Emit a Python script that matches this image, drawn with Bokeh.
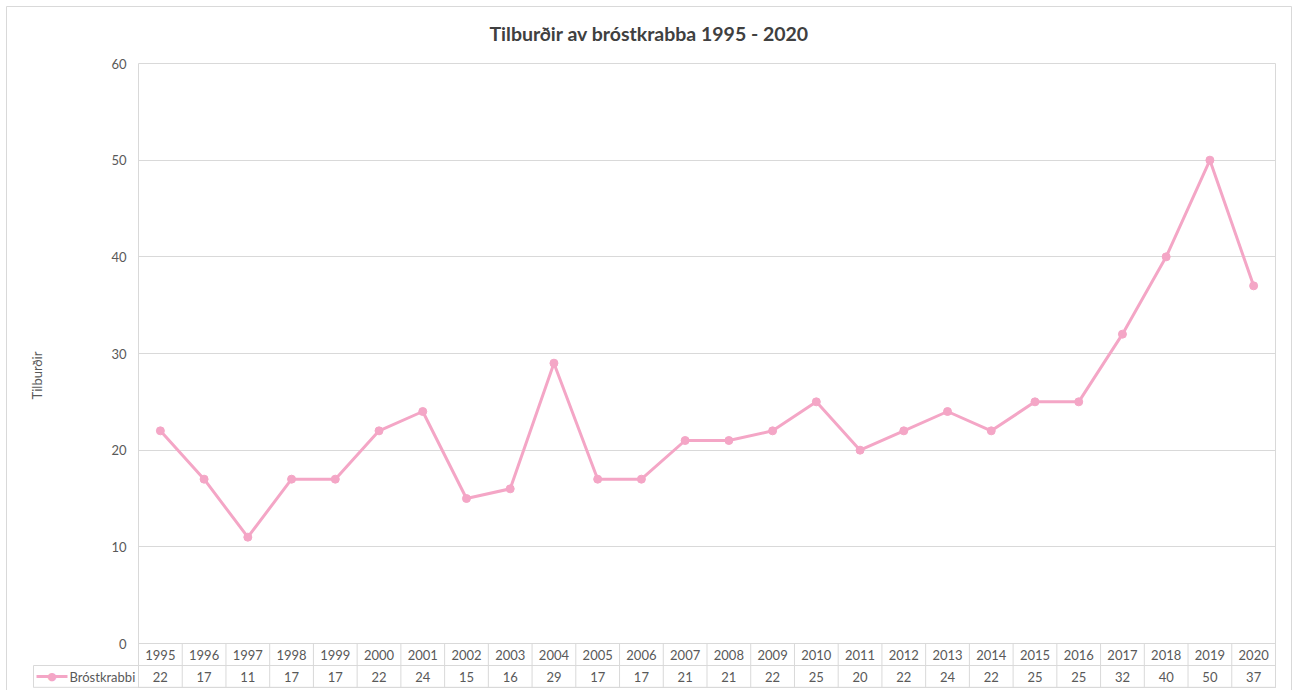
import numpy as np
from bokeh.plotting import figure
from bokeh.models import Range1d, FixedTicker, Title, ColumnDataSource
from bokeh.core.properties import value
from bokeh.embed import file_html
from bokeh.resources import INLINE

# ---- data ----
years = ["1995", "1996", "1997", "1998", "1999", "2000", "2001", "2002", "2003",
         "2004", "2005", "2006", "2007", "2008", "2009", "2010", "2011", "2012",
         "2013", "2014", "2015", "2016", "2017", "2018", "2019", "2020"]
cases = [22, 17, 11, 17, 17, 22, 24, 15, 16, 29, 17, 17, 21, 21, 22, 25, 20,
         22, 24, 22, 25, 25, 32, 40, 50, 37]
series_name = "Bróstkrabbi"
title_text = "Tilburðir av bróstkrabba 1995 - 2020"
y_label = "Tilburðir"
y_ticks = [0, 10, 20, 30, 40, 50, 60]

FONT = "Lato"
TXT = "#595959"
GRID = "#d9d9d9"
PINK = "#f4a6c6"

n = len(years)
xc = np.arange(n) + 0.5

# ---- geometry (pixels) ----
W, H = 1292, 690
F_LEFT, F_RIGHT, F_TOP, F_BOTTOM = 138, 1275, 63, 687
PLOT_BOTTOM = 643
ROW_PX = 22
LABEL_CELL_PX = 105

px_y = (PLOT_BOTTOM - F_TOP) / 60.0
px_x = (F_RIGHT - F_LEFT) / n
y_min = -(F_BOTTOM - PLOT_BOTTOM) / px_y
row_h = ROW_PX / px_y
lab_w = LABEL_CELL_PX / px_x


def sx(px):
    return (px - F_LEFT) / px_x


def sy(py):
    return (PLOT_BOTTOM - py) / px_y


p = figure(width=W, height=H, output_backend="svg", toolbar_location=None,
           x_axis_type=None, x_range=Range1d(0, n), y_range=Range1d(y_min, 60),
           min_border_left=F_LEFT, min_border_right=W - F_RIGHT,
           min_border_top=F_TOP, min_border_bottom=H - F_BOTTOM)
p.outline_line_color = GRID
p.outline_line_width = 1
p.xgrid.visible = False
p.ygrid.ticker = FixedTicker(ticks=y_ticks)
p.ygrid.grid_line_color = GRID
p.yaxis.ticker = FixedTicker(ticks=y_ticks)
p.yaxis.axis_line_color = None
p.yaxis.major_tick_line_color = None
p.yaxis.minor_tick_line_color = None
p.yaxis.major_tick_in = 0
p.yaxis.major_tick_out = 0
p.yaxis.major_label_standoff = 12
p.yaxis.major_label_text_font = FONT
p.yaxis.major_label_text_font_size = "13px"
p.yaxis.major_label_text_color = TXT
p.yaxis.axis_label = y_label
p.yaxis.axis_label_text_font = FONT
p.yaxis.axis_label_text_font_size = "13px"
p.yaxis.axis_label_text_font_style = "normal"
p.yaxis.axis_label_text_color = TXT
p.yaxis.axis_label_standoff = 63

t = Title(text=title_text, align="left", offset=351, text_font=FONT,
          text_font_size="19.5px", text_font_style="bold", text_color="#404040",
          standoff=38)
p.add_layout(t, "above")

# outer chart border (decoration, drawn unclipped)
p.quad(left=[sx(6)], right=[sx(W - 1)], top=[sy(6)], bottom=[sy(H + 10)],
       fill_color=None, line_color=GRID, line_width=1, level="overlay")

src = ColumnDataSource(dict(x=xc, y=cases))
p.line("x", "y", source=src, line_color=PINK, line_width=3)
p.scatter("x", "y", source=src, size=8, fill_color=PINK, line_color=PINK)

# ---- data table below the plot ----
y_mid = -row_h
y_bot = y_min
hx0 = [0, -lab_w, -lab_w]
hx1 = [n, n, n]
hy = [0, y_mid, y_bot + 0.02]
p.segment(x0=hx0, y0=hy, x1=hx1, y1=hy, line_color=GRID, line_width=1,
          level="overlay")
vx = list(range(n + 1)) + [-lab_w]
vy0 = [y_bot] * (n + 1) + [y_bot]
vy1 = [0.0] * (n + 1) + [y_mid]
p.segment(x0=vx, y0=vy0, x1=vx, y1=vy1, line_color=GRID, line_width=1,
          level="overlay")

p.text(x=xc, y=[-row_h / 2] * n, text=years, text_font=value(FONT),
       text_font_size="13px", text_color=TXT, text_align="center",
       text_baseline="middle")
y_vals = y_mid + (y_bot - y_mid) / 2
p.text(x=xc, y=[y_vals] * n, text=[str(v) for v in cases],
       text_font=value(FONT), text_font_size="13px", text_color=TXT,
       text_align="center", text_baseline="middle")

# legend key in the table's label cell
key_x0 = -lab_w + sx(36) - sx(33)
key_x1 = -lab_w + sx(67) - sx(33)
p.segment(x0=[key_x0], y0=[y_vals], x1=[key_x1], y1=[y_vals], line_color=PINK,
          line_width=3, level="overlay")
p.text(x=[(key_x0 + key_x1) / 2], y=[y_vals], text=["\u25cf"],
       text_font=value("DejaVu Sans"), text_font_size="11px", text_color=PINK,
       text_align="center", text_baseline="middle", level="overlay")
p.text(x=[-lab_w + sx(69) - sx(33)], y=[y_vals], text=[series_name],
       text_font=value(FONT), text_font_size="13px", text_color=TXT,
       text_align="left", text_baseline="middle", level="overlay")

open("out.html", "w").write(file_html(p, INLINE))
